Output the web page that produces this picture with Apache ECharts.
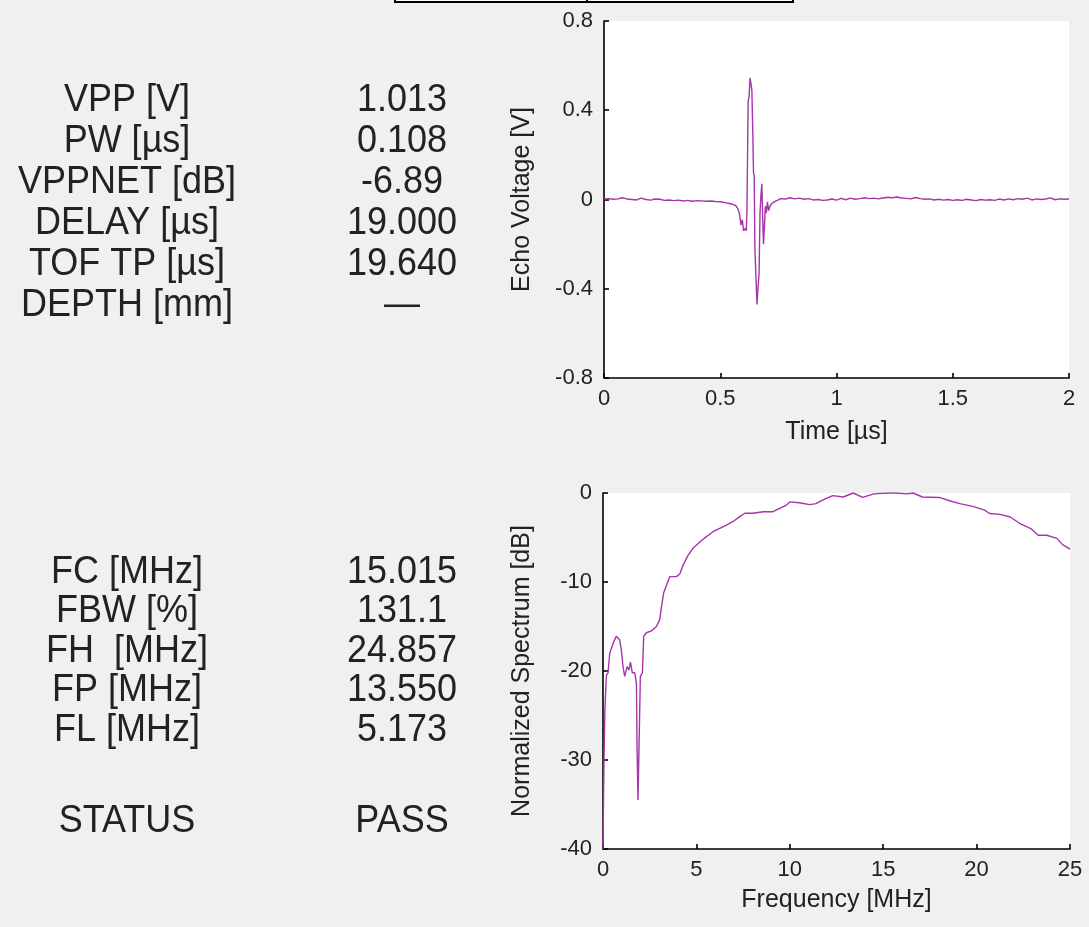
<!DOCTYPE html>
<html>
<head>
<meta charset="utf-8">
<title>Echo / Spectrum</title>
<script src="https://cdn.jsdelivr.net/npm/echarts@6/dist/echarts.min.js"></script>
<style>
html, body { margin: 0; padding: 0; background: #f0f0f0; }
#main { width: 1089px; height: 927px; }
</style>
</head>
<body>
<div id="main"></div>
<script>
// echo waveform, [time us, voltage V]
var echoPoints = [
    [0, 0.002], [0.02, 0.004], [0.04, 0.001], [0.06, 0.003], [0.08, 0.008], [0.10, 0.002],
    [0.12, 0.000], [0.14, -0.002], [0.16, 0.006], [0.18, 0.000], [0.20, -0.003], [0.22, 0.002],
    [0.24, 0.001], [0.26, -0.004], [0.28, -0.002], [0.30, -0.005], [0.32, -0.003], [0.34, -0.007],
    [0.36, -0.004], [0.38, -0.008], [0.40, -0.005], [0.42, -0.006], [0.44, -0.008], [0.46, -0.007],
    [0.48, -0.009], [0.50, -0.010], [0.52, -0.014],
    [0.54, -0.018], [0.555, -0.022], [0.567, -0.028], [0.575, -0.04], [0.582, -0.06], [0.589, -0.115],
    [0.595, -0.09], [0.60, -0.14], [0.607, -0.13], [0.612, -0.14], [0.615, -0.04], [0.62, 0.44],
    [0.624, 0.46], [0.628, 0.545], [0.632, 0.52], [0.636, 0.49], [0.640, 0.30], [0.643, 0.12],
    [0.646, 0.11], [0.649, -0.22], [0.654, -0.36], [0.658, -0.47], [0.662, -0.40], [0.667, -0.33],
    [0.671, -0.06], [0.675, 0.02], [0.679, 0.07], [0.683, -0.10], [0.686, -0.20], [0.690, -0.12],
    [0.694, -0.03], [0.698, -0.06], [0.703, -0.01], [0.708, -0.05], [0.714, -0.03], [0.72, -0.02],
    [0.73, -0.012], [0.74, -0.006], [0.75, -0.002],
    [0.76, 0.004], [0.78, 0.002], [0.80, 0.008], [0.82, 0.003], [0.84, 0.006], [0.86, 0.001],
    [0.88, 0.004], [0.90, -0.002], [0.92, 0.000], [0.94, -0.004], [0.96, -0.002], [0.98, 0.002],
    [1.00, -0.003], [1.02, 0.005], [1.04, -0.001], [1.06, 0.006], [1.08, 0.001], [1.10, 0.004],
    [1.12, 0.008], [1.14, 0.004], [1.16, 0.006], [1.18, 0.003], [1.20, 0.007], [1.22, 0.010],
    [1.24, 0.008], [1.26, 0.011], [1.28, 0.007], [1.30, 0.005], [1.32, 0.003], [1.34, 0.009],
    [1.36, 0.004], [1.38, 0.001], [1.40, 0.003], [1.42, -0.002], [1.44, 0.001], [1.46, -0.003],
    [1.48, 0.000], [1.50, -0.004], [1.52, -0.001], [1.54, -0.004], [1.56, 0.001], [1.58, -0.002],
    [1.60, -0.005], [1.62, 0.000], [1.64, -0.003], [1.66, -0.001], [1.68, -0.004], [1.70, 0.002],
    [1.72, -0.002], [1.74, 0.003], [1.76, -0.001], [1.78, 0.004], [1.80, 0.001], [1.82, 0.006],
    [1.84, -0.002], [1.86, 0.003], [1.88, 0.000], [1.90, 0.002], [1.92, 0.007], [1.94, -0.001],
    [1.96, 0.003], [1.98, 0.001], [2.00, 0.002]
];

// normalized spectrum, [frequency MHz, dB]
var spectrumPoints = [
    [0, -40], [0.05, -30.5], [0.1, -24.5], [0.18, -20.5], [0.27, -20.2], [0.36, -18], [0.54, -16.9],
    [0.71, -16.1], [0.89, -16.5], [0.98, -17.6], [1.07, -19.5], [1.16, -20.6], [1.29, -19.5],
    [1.39, -19.9], [1.47, -19], [1.57, -20.2], [1.7, -20.2], [1.79, -21.4], [1.82, -28.1],
    [1.875, -34.5], [1.93, -28.3], [2.0, -20.6], [2.11, -20.2], [2.18, -16.1], [2.32, -15.7],
    [2.59, -15.5], [2.86, -15.0], [3.04, -14.2], [3.13, -12.8], [3.25, -11.2], [3.43, -10.2],
    [3.57, -9.4], [3.93, -9.4], [4.11, -9.1], [4.29, -8.1], [4.55, -7.0], [4.82, -6.2], [5.18, -5.5],
    [5.54, -4.9], [5.89, -4.35], [6.25, -3.97], [6.61, -3.6], [6.96, -3.2], [7.32, -2.66],
    [7.59, -2.28], [8.03, -2.28], [8.57, -2.1], [9.1, -2.1], [9.46, -1.73], [9.82, -1.35],
    [10.0, -1.0], [10.5, -1.1], [11.07, -1.3], [11.4, -1.2], [11.8, -0.75], [12.3, -0.3],
    [12.86, -0.45], [13.4, 0], [13.9, -0.5], [14.5, -0.1], [15.2, 0], [15.7, 0], [16.25, -0.1],
    [16.6, 0], [17.1, -0.45], [18.0, -0.5], [18.6, -0.9], [19.1, -1.2], [19.8, -1.5], [20.4, -1.9],
    [20.7, -2.3], [21.25, -2.4], [21.8, -2.7], [22.3, -3.4], [22.9, -4.0], [23.3, -4.75],
    [23.75, -4.75], [24.3, -5.1], [24.6, -5.8], [25.0, -6.3]
];

var echoNames = ['VPP [V]', 'PW [µs]', 'VPPNET [dB]', 'DELAY [µs]', 'TOF TP [µs]', 'DEPTH [mm]'];
var echoValues = ['1.013', '0.108', '-6.89', '19.000', '19.640', '—'];
var freqNames = ['FC [MHz]', 'FBW [%]', 'FH  [MHz]', 'FP [MHz]', 'FL [MHz]', 'STATUS'];
var freqValues = ['15.015', '131.1', '24.857', '13.550', '5.173', 'PASS'];

var FONT = '"Liberation Sans", Arial, sans-serif';
var INK = '#222';
var LINE = '#a535a9';

var chart = echarts.init(document.getElementById('main'));

function axisX(grid, min, max, step, name, gap) {
    return {
        gridIndex: grid, type: 'value', min: min, max: max, interval: step,
        name: name, nameLocation: 'middle', nameGap: gap,
        nameTextStyle: { color: INK, fontSize: 25, fontFamily: FONT },
        axisLine: { onZero: false, lineStyle: { color: '#000', width: 1.6 } },
        axisTick: { inside: true, length: 5, lineStyle: { color: '#000', width: 1.6 } },
        axisLabel: { color: INK, fontSize: 22, fontFamily: FONT, margin: 10 },
        splitLine: { show: false }
    };
}
function axisY(grid, min, max, step, name, gap) {
    return {
        gridIndex: grid, type: 'value', min: min, max: max, interval: step,
        name: name, nameLocation: 'middle', nameGap: gap,
        nameTextStyle: { color: INK, fontSize: 25, fontFamily: FONT },
        axisLine: { onZero: false, lineStyle: { color: '#000', width: 1.6 } },
        axisTick: { inside: true, length: 5, lineStyle: { color: '#000', width: 1.6 } },
        axisLabel: { color: INK, fontSize: 22, fontFamily: FONT, margin: 11 },
        splitLine: { show: false }
    };
}

function tableText(str, x, y) {
    return {
        type: 'text', x: x, y: y, scaleY: 1.1,
        style: {
            text: str, x: 0, y: 0, font: '36px ' + FONT, fill: INK,
            align: 'center', verticalAlign: 'middle', textAlign: 'center', textVerticalAlign: 'middle'
        }
    };
}

// text table on the left
var texts = [];
echoNames.forEach(function (n, i) {
    var y = 100 + i * 41;
    texts.push(tableText(n, 127, y));
    texts.push(tableText(echoValues[i], 402, y));
});
freqNames.forEach(function (n, i) {
    var y = i < 5 ? 572 + i * 39.5 : 821;
    texts.push(tableText(n, 127, y));
    texts.push(tableText(freqValues[i], 402, y));
});
// cut-off box at the top edge
texts.push({ type: 'rect', shape: { x: 395, y: -10, width: 398, height: 12 }, style: { fill: '#fff', stroke: '#000', lineWidth: 2 } });
texts.push({ type: 'line', shape: { x1: 587, y1: -10, x2: 587, y2: 2 }, style: { stroke: '#000', lineWidth: 2 } });

var option = {
    animation: false,
    backgroundColor: '#f0f0f0',
    textStyle: { fontFamily: FONT },
    grid: [
        { left: 604, top: 21, width: 465, height: 357, show: true, backgroundColor: '#fff', borderWidth: 0 },
        { left: 603, top: 493, width: 467, height: 356, show: true, backgroundColor: '#fff', borderWidth: 0 }
    ],
    xAxis: [
        axisX(0, 0, 2, 0.5, 'Time [µs]', 42),
        axisX(1, 0, 25, 5, 'Frequency [MHz]', 39)
    ],
    yAxis: [
        axisY(0, -0.8, 0.8, 0.4, 'Echo Voltage [V]', 69),
        axisY(1, -40, 0, 10, 'Normalized Spectrum [dB]', 68)
    ],
    graphic: texts,
    series: [
        {
            type: 'line', xAxisIndex: 0, yAxisIndex: 0, data: echoPoints,
            showSymbol: false, lineStyle: { color: LINE, width: 1.4 }
        },
        {
            type: 'line', xAxisIndex: 1, yAxisIndex: 1, data: spectrumPoints,
            showSymbol: false, lineStyle: { color: LINE, width: 1.4 }
        }
    ]
};
chart.setOption(option);
</script>
</body>
</html>
